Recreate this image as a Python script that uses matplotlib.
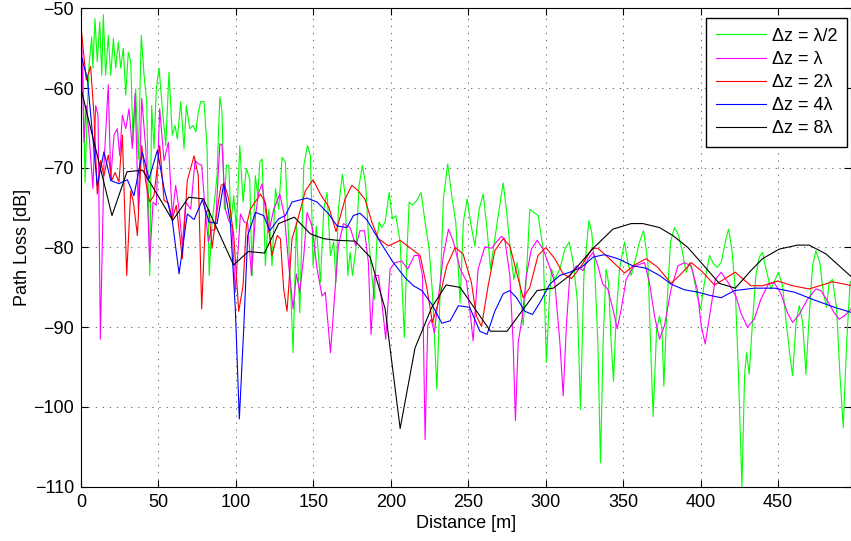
import matplotlib.pyplot as plt

plt.rcParams['font.family'] = ['Liberation Sans', 'DejaVu Sans']

# (distance [m], path loss [dB]) for each antenna spacing
dz_half = [(0, -64.3), (1.2, -56.3), (2.6, -71.8), (4.1, -62.6), (5.2, -57.1), (6.9, -53.6), (7.7, -57.5), (9, -51.3),
           (10.5, -56.7), (12.1, -51.7), (13.4, -58.4), (14.4, -50.8), (15.9, -58.4), (17.6, -53.4), (19.2, -58.4),
           (20.9, -53.8), (22.4, -57.5), (24.1, -54.2), (25.6, -57.5), (27.3, -55.0), (28.9, -60.9), (30.5, -55.5),
           (32.1, -56.7), (33.6, -66.8), (35.3, -60.1), (37, -68.9), (38.9, -53.4), (40.7, -58.4), (42.4, -61.7),
           (44.4, -83.5), (45.6, -62.2), (47.1, -67.6), (48.6, -60.1), (50.4, -57.5), (52.5, -62.6), (54.7, -67.2),
           (56.8, -58.0), (58.9, -65.9), (60.7, -64.7), (62.2, -66.4), (64.4, -61.7), (66.5, -67.6), (68, -62.2),
           (70.2, -65.1), (72.3, -64.7), (74.1, -65.5), (75.7, -63.0), (77.3, -61.7), (79.4, -61.7), (81.4, -67.6),
           (82.7, -83.5), (84.6, -76.8), (86.1, -74.3), (87.8, -71.0), (89.6, -61.1), (91, -63.0), (92.5, -75.2),
           (93.8, -69.7), (95.4, -69.7), (96.8, -76.8), (98.6, -73.5), (100.3, -77.7), (102.5, -67.2), (104.6, -74.3),
           (106.7, -70.1), (108.9, -71.4), (110.4, -83.5), (112.5, -71.0), (114.1, -73.5), (115.4, -69.3),
           (116.9, -68.9), (119, -82.3), (121.2, -75.2), (123.3, -82.3), (125.5, -72.6), (127.6, -75.2),
           (129.8, -68.7), (131.9, -69.3), (134.1, -79.3), (136.9, -93.2), (139, -76.8), (141.2, -88.2),
           (143.8, -69.7), (146.2, -67.2), (148.1, -68.5), (149.8, -82.3), (151.9, -77.3), (154.5, -84.4),
           (156.7, -75.2), (158.8, -73.1), (161, -81.0), (163.1, -79.3), (164.6, -84.4), (166.1, -75.2),
           (168.7, -70.8), (170.5, -73.5), (172.2, -83.5), (173.7, -80.6), (175.2, -83.5), (177.4, -80.2),
           (179.5, -72.2), (181.6, -69.7), (183.8, -72.2), (185.5, -78.5), (187.7, -83.5), (189.4, -86.5),
           (190.9, -79.3), (192.4, -76.8), (194.1, -77.5), (196.3, -76.8), (198.9, -73.1), (201, -76.4),
           (203.2, -76.0), (206, -79.3), (208.7, -91.3), (210.3, -81.0), (211.8, -74.3), (213.9, -74.7),
           (216.7, -74.1), (219.5, -73.1), (222.1, -76.8), (224.7, -80.2), (226.8, -85.6), (229.7, -97.8),
           (231.8, -85.6), (233.9, -73.9), (236.7, -69.5), (239.3, -73.5), (241.9, -76.8), (244.7, -86.9),
           (246.8, -76.8), (249.2, -73.9), (251.4, -76.8), (254.2, -79.8), (257, -75.2), (259.6, -73.3),
           (262.1, -77.7), (264.3, -82.7), (267.1, -78.9), (269.9, -75.2), (272.5, -71.9), (275, -76.0),
           (277.2, -80.6), (279.4, -84.0), (281.5, -81.9), (283.2, -84.4), (285.4, -89.8), (287.5, -83.5),
           (289.7, -75.2), (292.3, -75.6), (295.1, -76.0), (298.3, -80.2), (300.4, -94.4), (302.2, -86.9),
           (303.7, -82.7), (305.8, -84.0), (309.1, -82.7), (312.3, -80.2), (315.1, -79.3), (317.7, -81.9),
           (320.3, -86.5), (322.4, -100.3), (324.6, -83.5), (327.8, -76.6), (329.6, -78.0), (331.4, -81.9),
           (333.6, -91.9), (335.3, -107.0), (337, -91.9), (338.9, -82.7), (340.5, -84.4), (342.2, -91.9),
           (343.7, -96.8), (345.4, -88.6), (347.6, -82.7), (350.8, -79.3), (353, -81.9), (355.1, -83.5),
           (357.3, -81.9), (360.5, -79.3), (363.1, -77.9), (365.9, -81.9), (367.6, -91.9), (369.3, -101.2),
           (371.5, -90.3), (373.4, -88.6), (375, -90.3), (376.2, -97.4), (378.4, -86.5), (380.5, -79.3),
           (383.1, -77.5), (385.7, -78.5), (387.8, -80.2), (390.6, -83.1), (392.8, -81.9), (394.9, -83.1),
           (397.7, -86.1), (399.9, -87.7), (402.4, -84.4), (405.7, -81.0), (407.8, -81.9), (410.6, -82.5),
           (413.2, -81.9), (416.3, -78.9), (418, -77.7), (420.1, -80.2), (422.3, -85.2), (424.4, -96.1),
           (426.6, -110.0), (428.3, -96.1), (429.6, -93.2), (431.3, -95.9), (433.4, -89.4), (435.6, -83.5),
           (437.8, -81.2), (439.9, -80.6), (442.1, -82.7), (445.3, -85.2), (448.1, -84.0), (450.2, -83.1),
           (452.8, -84.8), (455.4, -89.8), (457.6, -93.6), (459.3, -96.1), (461.5, -89.4), (463.6, -87.3),
           (465.8, -89.4), (467.9, -95.9), (470, -88.6), (472.2, -82.3), (474.3, -80.4), (476.9, -81.9),
           (479.1, -85.6), (481.2, -87.5), (482.9, -84.4), (485.1, -84.0), (487.7, -87.7), (489.9, -96.1),
           (492, -102.6), (494.2, -91.9), (496.4, -84.4), (498, -84.0)]

dz_1 = [(0, -50.0), (1.9, -66.8), (3.4, -62.2), (5.2, -65.9), (7.7, -72.6), (9.5, -62.2), (11, -63.4), (12.5, -91.5),
        (14.8, -69.7), (17.6, -59.6), (19.2, -71.4), (21.3, -65.9), (23.4, -65.1), (25, -68.5), (26.7, -63.4),
        (28.9, -65.1), (31, -62.6), (33.1, -67.6), (34.9, -60.7), (37, -75.2), (39.2, -61.3), (41.8, -67.6),
        (44.3, -81.9), (46.5, -74.3), (48.6, -74.7), (50.8, -62.6), (53.6, -69.1), (56.4, -66.8), (58.9, -76.0),
        (61.1, -72.2), (63.3, -75.2), (65.4, -79.8), (67.6, -74.3), (70.8, -75.2), (73.6, -69.1), (75.7, -69.5),
        (77.9, -69.7), (80.1, -75.2), (82.2, -79.3), (83.9, -77.9), (86.7, -77.7), (89.6, -67.0), (91, -67.1),
        (93.2, -75.2), (95.3, -76.6), (97.5, -77.3), (99.6, -85.6), (102.9, -75.8), (105.4, -76.8), (107.6, -77.0),
        (110, -83.5), (112.6, -76.0), (114.7, -73.1), (116.9, -72.0), (119, -75.2), (121.2, -78.1), (124.4, -75.2),
        (128.3, -73.3), (131.3, -76.0), (134.1, -82.3), (136.9, -87.7), (139, -83.3), (141.2, -85.6),
        (143.8, -81.0), (145.9, -75.6), (149.1, -77.3), (152.4, -82.7), (155.6, -86.1), (157.7, -85.6),
        (161, -93.2), (163.1, -87.7), (166.1, -79.8), (169.4, -77.0), (173.7, -77.5), (177.4, -79.8),
        (180.1, -77.9), (183, -77.9), (185.5, -81.9), (187.2, -90.9), (189.4, -83.5), (192, -83.5), (194.2, -86.9),
        (196.7, -91.5), (199.5, -82.7), (202.7, -81.9), (207.1, -81.7), (210.9, -82.7), (215.2, -81.0),
        (217.8, -81.0), (220.4, -83.5), (222.1, -104.1), (223.8, -89.8), (226, -89.0), (228.1, -90.7),
        (231.1, -85.6), (233.9, -81.0), (237.2, -77.7), (240.4, -79.3), (244.7, -82.7), (248.8, -84.2),
        (250.9, -87.7), (253.1, -91.7), (256.3, -82.7), (260.7, -79.9), (264.9, -80.1), (268.2, -79.3),
        (271.4, -78.6), (273.5, -78.9), (276.8, -83.5), (278.9, -91.9), (280.4, -101.7), (282.2, -91.9),
        (284.9, -88.6), (287.5, -83.5), (290.7, -80.2), (294.4, -79.1), (298.3, -80.2), (302.2, -82.3),
        (305.8, -84.4), (309.1, -91.9), (311.2, -98.6), (313.3, -89.8), (315.5, -83.5), (319.8, -82.3),
        (324.1, -82.9), (327.3, -81.4), (330.6, -80.6), (333.6, -82.3), (336.8, -84.6), (340, -85.2),
        (343.3, -87.7), (346.1, -90.2), (348.7, -87.7), (351.9, -84.0), (356.2, -82.5), (359.4, -82.2),
        (363.7, -81.9), (366.9, -84.4), (370.2, -88.6), (373.4, -91.5), (376.6, -89.8), (380.9, -85.2),
        (385.3, -82.3), (389.5, -81.9), (393.9, -82.3), (397.7, -85.2), (400.3, -89.8), (402.9, -92.1),
        (405.7, -88.6), (409.4, -84.0), (413.2, -83.1), (418.4, -84.6), (422.7, -86.1), (425.9, -88.2),
        (430.2, -90.0), (434.5, -89.0), (438.8, -86.5), (443.7, -84.6), (447.4, -84.4), (451.8, -85.8),
        (456, -88.2), (459.3, -89.4), (463.6, -88.4), (468.9, -86.5), (474.3, -85.2), (477.5, -85.4),
        (481.8, -86.7), (486.2, -88.2), (489.4, -89.0), (493.7, -88.4), (498, -87.5)]

dz_2 = [(0, -52.3), (3.4, -59.0), (6.2, -57.3), (8.4, -63.4), (10.5, -73.3), (12.7, -69.1), (14.8, -71.0),
        (17.6, -68.4), (19.8, -71.6), (22, -70.6), (24.5, -71.8), (26.7, -65.9), (29.5, -83.5), (32.1, -72.9),
        (33.8, -74.3), (36.4, -78.5), (39.2, -67.2), (41.8, -71.8), (44.3, -74.3), (47.1, -73.5), (50.8, -67.2),
        (53.6, -74.1), (56.4, -74.4), (58.9, -76.4), (61.5, -74.7), (65.4, -81.4), (68.6, -71.6), (73, -68.5),
        (75.7, -71.0), (77.9, -87.7), (80.5, -75.6), (82.6, -75.2), (84.6, -80.1), (86.7, -76.8), (90.4, -72.2),
        (92.5, -72.0), (95.3, -73.9), (98.6, -78.5), (101.8, -88.0), (104.6, -84.8), (106.7, -77.3),
        (109.3, -75.2), (115.8, -73.3), (119, -74.3), (123.3, -81.0), (126.6, -78.5), (128.7, -78.9),
        (130.8, -85.2), (133, -88.0), (136.2, -78.9), (139.5, -76.8), (144.8, -72.9), (149.8, -71.5),
        (154.5, -73.3), (159.9, -74.9), (164.6, -78.0), (167.2, -76.2), (170.5, -73.9), (174.8, -72.2),
        (179, -72.9), (183.4, -74.0), (187.7, -76.8), (192, -78.9), (198.4, -79.8), (206, -79.1), (213.5, -80.2),
        (218.9, -81.0), (223.2, -85.0), (226.8, -89.4), (230.7, -86.9), (236.1, -82.3), (241.5, -80.0),
        (246.6, -80.8), (252, -84.4), (255.2, -88.6), (258.5, -89.9), (262.8, -84.8), (267.1, -80.4),
        (272.5, -78.9), (276.8, -79.8), (281.1, -83.1), (285.4, -86.3), (289.7, -85.0), (295, -81.0),
        (300, -80.0), (305.8, -81.4), (311.2, -83.3), (316.6, -83.9), (323, -82.3), (330, -80.1), (333.6, -80.1),
        (341.1, -81.4), (350.8, -83.2), (357.2, -82.2), (364.8, -81.4), (372.3, -82.5), (380.9, -84.5),
        (387.4, -83.3), (393.9, -81.9), (400.3, -82.9), (408.9, -84.7), (413.2, -84.2), (422.3, -83.1),
        (432.4, -84.8), (439.9, -84.8), (449.6, -84.2), (459.3, -84.8), (470, -85.2), (485.1, -84.3),
        (498, -84.8)]

dz_4 = [(0, -55.9), (4.1, -58.8), (10.5, -72.2), (14.8, -68.0), (19.2, -71.6), (24.5, -72.0), (29.9, -71.5),
        (34.2, -73.5), (39.6, -68.1), (43.9, -71.4), (49.3, -67.8), (53.6, -72.6), (58.9, -76.6), (63.3, -83.3),
        (68.6, -75.8), (73, -76.5), (78.3, -74.0), (82.6, -76.8), (87.8, -77.0), (92.1, -72.0), (96.4, -76.8),
        (99.6, -87.7), (102.2, -101.5), (105, -90.3), (107.6, -78.5), (112.6, -75.6), (117.9, -76.0),
        (121.8, -77.9), (127.6, -76.4), (131.9, -76.0), (136.2, -74.3), (145.9, -73.8), (152.4, -74.3),
        (159.9, -75.8), (165.3, -77.3), (171.6, -77.5), (175.8, -76.0), (180.1, -75.7), (184.4, -76.5),
        (193.1, -79.3), (201.6, -81.9), (209.2, -83.8), (214.6, -84.8), (220, -85.4), (226.4, -87.1),
        (232.9, -89.5), (238.2, -89.2), (243.6, -87.3), (250.9, -87.5), (257.4, -90.5), (262.1, -90.9),
        (267.1, -88.0), (272.5, -85.8), (276.8, -85.4), (281.1, -86.3), (286.5, -88.0), (291.4, -88.4),
        (296.2, -86.9), (302.6, -84.6), (309.1, -83.5), (315.5, -83.1), (323, -82.5), (330.6, -81.2),
        (337.9, -80.9), (346.5, -81.4), (356.2, -82.3), (364.8, -82.6), (373.4, -83.5), (380.9, -84.6),
        (389.5, -85.3), (398.2, -85.6), (405.7, -86.0), (413.2, -86.3), (421.8, -85.4), (434.7, -85.1),
        (447.6, -85.1), (460.5, -85.6), (473.5, -86.6), (486.4, -87.5), (498, -88.2)]

dz_8 = [(0, -60.1), (20, -76.0), (29.7, -70.5), (39.8, -70.3), (59.2, -76.6), (69.5, -73.7), (79, -73.9),
        (98.5, -82.2), (108, -80.5), (118.4, -80.7), (127.6, -77.0), (137.7, -76.2), (148.1, -78.3),
        (156.7, -78.9), (165.3, -79.1), (176.9, -79.2), (186.6, -81.2), (196.3, -87.7), (206, -102.7),
        (215.6, -92.6), (226.4, -87.5), (235.7, -84.7), (244.7, -85.0), (264.3, -90.5), (275, -90.5),
        (294.4, -85.4), (304.8, -85.1), (315.5, -83.5), (330.6, -80.1), (343.3, -77.7), (355.1, -77.0),
        (362.7, -77.0), (373.4, -77.5), (382, -78.5), (391.7, -80.0), (400.3, -81.9), (412, -84.5),
        (422.3, -85.1), (432.4, -82.9), (439.9, -81.4), (450.7, -80.2), (462.5, -79.7), (470, -79.7),
        (480.8, -80.8), (490.5, -82.5), (498, -83.8)]

series = [
    (dz_half, (0, 1, 0), 'Δz = λ/2'),
    (dz_1, (1, 0, 1), 'Δz = λ'),
    (dz_2, (1, 0, 0), 'Δz = 2λ'),
    (dz_4, (0, 0, 1), 'Δz = 4λ'),
    (dz_8, (0, 0, 0), 'Δz = 8λ'),
]

fig = plt.figure(figsize=(8.51, 5.41), dpi=100)
ax = fig.add_axes([81 / 851, 1 - 486.7 / 541, (851 - 81) / 851, (486.7 - 8.3) / 541])

for pts, color, label in series:
    dist, loss = zip(*pts)
    ax.plot(dist, loss, color=color, lw=0.8, label=label)

ax.set_xlim(0, 497)
ax.set_ylim(-110, -50)
ax.set_xticks(range(0, 451, 50))
ax.set_yticks(range(-110, -49, 10))
ax.grid(True, color='0.3', linestyle=(0, (1.5, 7)), lw=0.6)
ax.tick_params(direction='in', top=True, right=True, labelsize=13, length=5, pad=5)
ax.set_xlabel('Distance [m]', fontsize=13, labelpad=3)
ax.set_ylabel('Path Loss [dB]', fontsize=13, labelpad=2)

leg = ax.legend(loc='upper right', bbox_to_anchor=(0.995, 0.98), borderaxespad=0,
                fancybox=False, edgecolor='k', framealpha=1, fontsize=13,
                handlelength=2.8, handletextpad=0.3, labelspacing=0.34, borderpad=0.55)
leg.get_frame().set_linewidth(1.0)

fig.savefig('out.png', dpi=100)
